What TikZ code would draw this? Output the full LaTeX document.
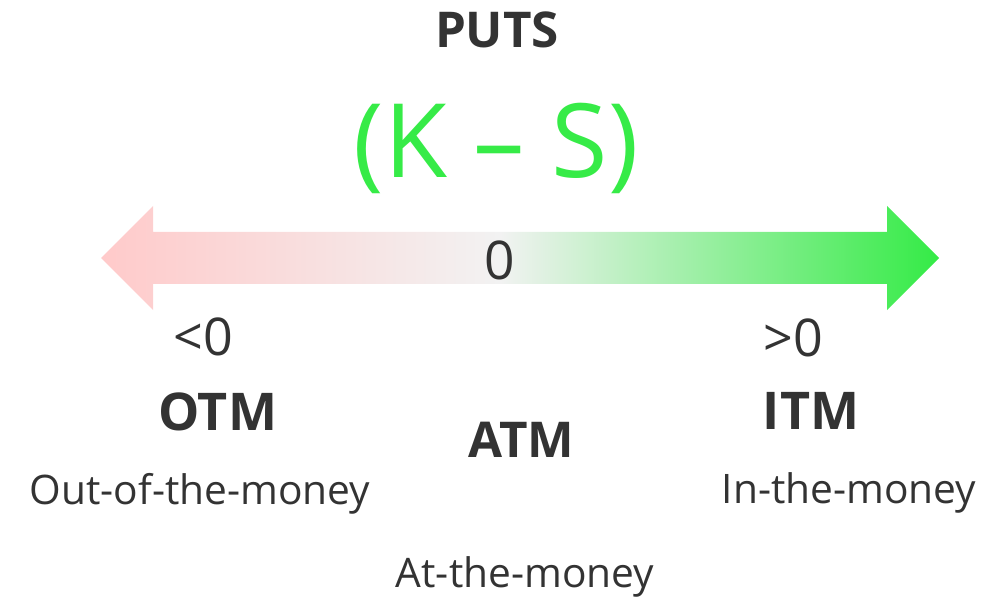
\documentclass[tikz,border=0pt]{standalone}
\usepackage{fontspec}
\setmainfont{Open Sans}
\definecolor{txt}{HTML}{333333}
\definecolor{kgreen}{RGB}{54,235,71}
\definecolor{gpink}{RGB}{255,202,202}
\definecolor{ggray}{RGB}{242,242,242}
\definecolor{ggreen}{RGB}{52,235,70}
% pink -> gray -> green along the double arrow
\pgfdeclarehorizontalshading{moneyness}{100bp}{%
  color(0bp)=(gpink); color(25bp)=(gpink); color(48.8bp)=(ggray);
  color(75bp)=(ggreen); color(100bp)=(ggreen)}
\tikzset{
  lbl/.style={anchor=base, inner sep=0pt, text=txt},
  head/.style={lbl, font=\fontsize{37}{44}\selectfont\bfseries},
  big/.style={lbl, font=\fontsize{39}{46}\selectfont\bfseries},
  num/.style={lbl, font=\fontsize{39}{46}\selectfont},
  desc/.style={lbl, font=\fontsize{30.5}{36}\selectfont},
}
\begin{document}
\begin{tikzpicture}[x=0.75pt, y=-0.75pt]
\useasboundingbox (0,0) rectangle (1005,598);

% double-headed gradient arrow
\shade[shading=moneyness]
  (101,258) -- (153,206) -- (153,232) -- (887,232) -- (887,206) -- (939,258)
  -- (887,310) -- (887,284) -- (153,284) -- (153,310) -- cycle;

\node[head] (puts) at (497,47.5) {PUTS};
\node[lbl, text=kgreen, font=\fontsize{77}{90}\selectfont] (ks) at (496,178) {(K – S)};
\node[num, font=\fontsize{40}{48}\selectfont] (zero) at (499.5,280) {0};

\node[num] (neg) at (203,355) {<0};
\node[num] (pos) at (793,356) {>0};

\node[big] (otm) at (217.5,430) {OTM};
\node[big] (itm) at (811,429.5) {ITM};
\node[head] (atm) at (521.5,457) {ATM};

\node[desc] (otmtext) at (200,504) {Out-of-the-money};
\node[desc] (itmtext) at (849,503.5) {In-the-money};
\node[desc] (atmtext) at (525,587) {At-the-money};
\end{tikzpicture}
\end{document}
